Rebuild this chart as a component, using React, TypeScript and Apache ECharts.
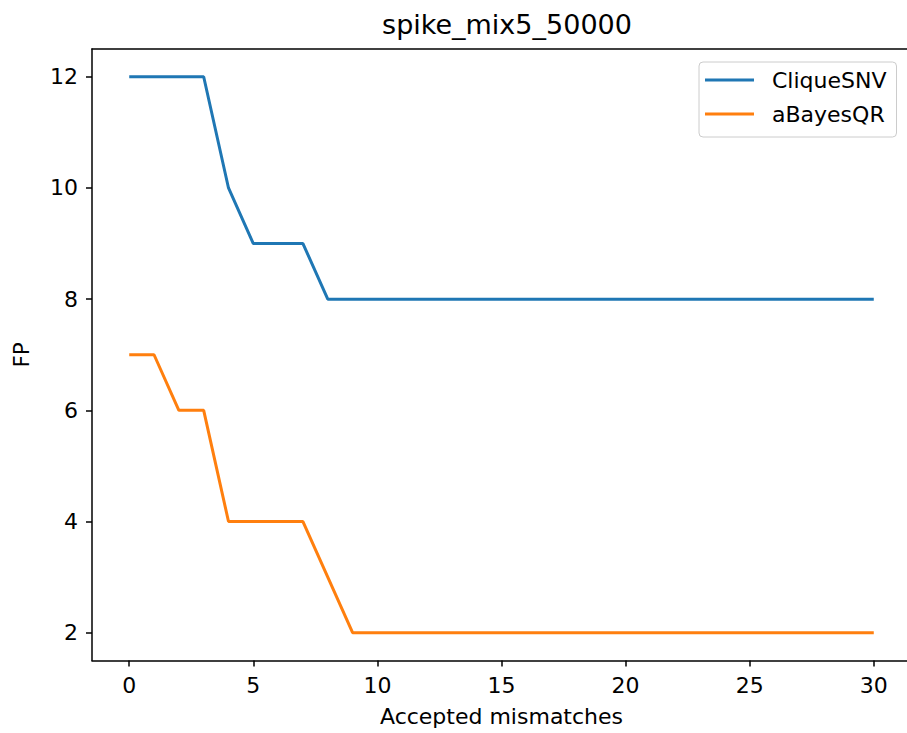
import React, { useEffect, useRef } from "react";
import * as echarts from "echarts";

const xValues = Array.from({ length: 31 }, (_, i) => i);
const cliqueSNV = [12, 12, 12, 12, 10, 9, 9, 9, 8, 8, 8, 8, 8, 8, 8, 8, 8, 8, 8, 8, 8, 8, 8, 8, 8, 8, 8, 8, 8, 8, 8];
const aBayesQR = [7, 7, 6, 6, 4, 4, 4, 4, 3, 2, 2, 2, 2, 2, 2, 2, 2, 2, 2, 2, 2, 2, 2, 2, 2, 2, 2, 2, 2, 2, 2];
const xTicks = [0, 5, 10, 15, 20, 25, 30];
const yTicks = [2, 4, 6, 8, 10, 12];
const seriesNames = ["CliqueSNV", "aBayesQR"];
const colors = ["#1f77b4", "#ff7f0e"];

export default function App() {
  const ref = useRef<HTMLDivElement>(null);
  useEffect(() => {
    if (!ref.current) return;
    const chart = echarts.init(ref.current, undefined, { renderer: "svg" });
    const font = "DejaVu Sans";
    const spine = { show: true, onZero: false, lineStyle: { color: "#000", width: 1.5 } };
    chart.setOption({
      animation: false,
      backgroundColor: "#ffffff",
      textStyle: { fontFamily: font, color: "#000" },
      title: {
        text: "spike_mix5_50000",
        left: 502,
        textAlign: "center",
        top: 6,
        textStyle: { fontFamily: font, fontSize: 27, fontWeight: "normal", color: "#000" },
      },
      legend: {
        orient: "vertical",
        left: 699,
        top: 62,
        padding: [6, 10, 11, 6],
        itemGap: 10,
        itemWidth: 49,
        itemHeight: 3,
        icon: "rect",
        borderColor: "#cccccc",
        borderWidth: 1,
        borderRadius: 4,
        backgroundColor: "rgba(255,255,255,0.8)",
        textStyle: { fontFamily: font, fontSize: 22, color: "#000", lineHeight: 24, padding: [0, 0, 0, 13] },
        data: seriesNames,
      },
      grid: {
        left: 92,
        right: -4,
        top: 49,
        bottom: 72.5,
        outerBoundsMode: "none",
        containLabel: false,
        show: false,
      },
      xAxis: [
        {
          type: "value",
          min: -1.5,
          max: 31.5,
          position: "bottom",
          name: "Accepted mismatches",
          nameLocation: "middle",
          nameGap: 45,
          nameTextStyle: { fontFamily: font, fontSize: 22, color: "#000" },
          axisLine: spine,
          axisTick: { show: true, length: 6, customValues: xTicks, lineStyle: { color: "#000", width: 1.5 } },
          axisLabel: { customValues: xTicks, fontFamily: font, fontSize: 22, color: "#000", margin: 14 },
          splitLine: { show: false },
        },
        {
          type: "value",
          min: -1.5,
          max: 31.5,
          position: "top",
          axisLine: spine,
          axisTick: { show: false },
          axisLabel: { show: false },
          splitLine: { show: false },
        },
      ],
      yAxis: {
        type: "value",
        min: 1.5,
        max: 12.5,
        name: "FP",
        nameLocation: "middle",
        nameGap: 60,
        nameTextStyle: { fontFamily: font, fontSize: 21, color: "#000" },
        axisLine: spine,
        axisTick: { show: true, length: 6, customValues: yTicks, lineStyle: { color: "#000", width: 1.5 } },
        axisLabel: { customValues: yTicks, fontFamily: font, fontSize: 22, color: "#000", margin: 14 },
        splitLine: { show: false },
      },
      series: [
        {
          name: seriesNames[0],
          type: "line",
          data: xValues.map((x, i) => [x, cliqueSNV[i]]),
          symbol: "none",
          lineStyle: { color: colors[0], width: 3 },
          itemStyle: { color: colors[0] },
          z: 3,
        },
        {
          name: seriesNames[1],
          type: "line",
          data: xValues.map((x, i) => [x, aBayesQR[i]]),
          symbol: "none",
          lineStyle: { color: colors[1], width: 3 },
          itemStyle: { color: colors[1] },
          z: 3,
        },
      ],
    });
    return () => chart.dispose();
  }, []);
  return <div ref={ref} style={{ position: "fixed", left: 0, top: 0, width: 907, height: 733 }} />;
}
